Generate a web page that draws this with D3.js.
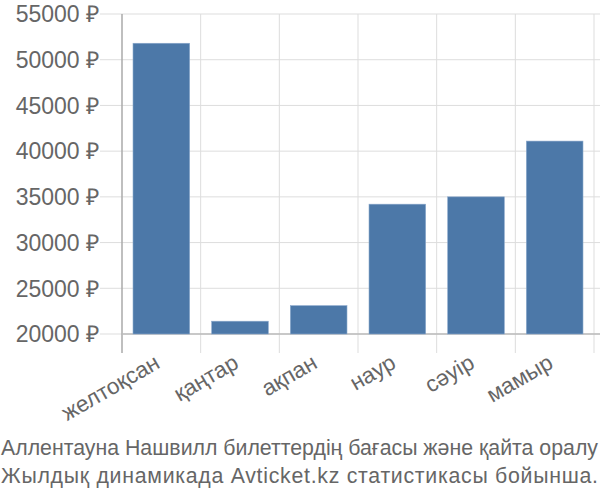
<!DOCTYPE html>
<html>
<head>
<meta charset="utf-8">
<script src="https://cdn.jsdelivr.net/npm/d3@7"></script>
<style>
	body { margin: 0; background: #fff; }
	text { font-family: "Liberation Sans", Arial, sans-serif; fill: #666; }
</style>
</head>
<body>
<svg id="chart" width="600" height="500"></svg>
<script>
var months = ["желтоқсан", "қаңтар", "ақпан", "наур", "сәуір", "мамыр"];
var prices = [51800, 21400, 23100, 34200, 35000, 41100];
var yTicks = [20000, 25000, 30000, 35000, 40000, 45000, 50000, 55000];
var titleLines = [
	"Аллентауна Нашвилл билеттердің бағасы және қайта оралу",
	"Жылдық динамикада Avticket.kz статистикасы бойынша."
];

var margin = { top: 14, left: 122, right: 6, bottom: 166 },
	width = 600 - margin.left - margin.right,
	height = 500 - margin.top - margin.bottom;

var svg = d3.select('#chart');
var g = svg.append('g')
	.attr('transform', 'translate(' + margin.left + ',' + margin.top + ')');

var x = d3.scaleBand()
	.domain(months)
	.range([0, width])
	.paddingInner(0.28)
	.paddingOuter(0.14);

var y = d3.scaleLinear()
	.domain([20000, 55000])
	.range([height, 0]);

// horizontal grid
g.append('g')
	.selectAll('line')
	.data(yTicks)
	.enter().append('line')
	.attr('x1', -22)
	.attr('x2', width + margin.right)
	.attr('y1', function(d){ return y(d); })
	.attr('y2', function(d){ return y(d); })
	.attr('stroke', '#ddd')
	.attr('stroke-width', 1);

// vertical grid at band edges
var edges = months.map(function(m){ return x(m) - x.step() * x.paddingInner() / 2; });
edges.push(width);
g.append('g')
	.selectAll('line')
	.data(edges)
	.enter().append('line')
	.attr('x1', function(d){ return d; })
	.attr('x2', function(d){ return d; })
	.attr('y1', 0)
	.attr('y2', height + 19)
	.attr('stroke', function(d, i){ return i === 0 ? '#aaa' : '#ddd'; })
	.attr('stroke-width', function(d, i){ return i === 0 ? 1.5 : 1; });

// baseline
g.append('line')
	.attr('x1', 0)
	.attr('x2', width + margin.right)
	.attr('y1', height)
	.attr('y2', height)
	.attr('stroke', '#bbb')
	.attr('stroke-width', 1.5);

// bars
g.selectAll('.bar')
	.data(prices)
	.enter().append('rect')
	.attr('class', 'bar')
	.attr('x', function(d, i){ return x(months[i]); })
	.attr('width', x.bandwidth())
	.attr('y', function(d){ return y(d); })
	.attr('height', function(d){ return height - y(d); })
	.attr('fill', '#4c78a8')
	.attr('stroke', '#8aa8cc')
	.attr('stroke-width', 0.6);

// y labels
g.append('g')
	.selectAll('text')
	.data(yTicks)
	.enter().append('text')
	.attr('x', -23)
	.attr('y', function(d){ return y(d); })
	.attr('dy', '0.36em')
	.attr('text-anchor', 'end')
	.style('font-size', '23px')
	.text(function(d){ return d + ' ₽'; });

// x labels
g.append('g')
	.selectAll('text')
	.data(months)
	.enter().append('text')
	.attr('text-anchor', 'end')
	.style('font-size', '22.5px')
	.attr('transform', function(d){
		return 'translate(' + (x(d) + x.bandwidth() / 2) + ',' + (height + 33) + ') rotate(-30)';
	})
	.text(function(d){ return d; });

// title, both lines stretched to the full width
svg.append('g')
	.selectAll('text')
	.data(titleLines)
	.enter().append('text')
	.attr('x', 1)
	.attr('y', function(d, i){ return 455 + i * 28; })
	.attr('textLength', 597)
	.attr('lengthAdjust', 'spacing')
	.style('font-size', '21.3px')
	.text(function(d){ return d; });
</script>
</body>
</html>
